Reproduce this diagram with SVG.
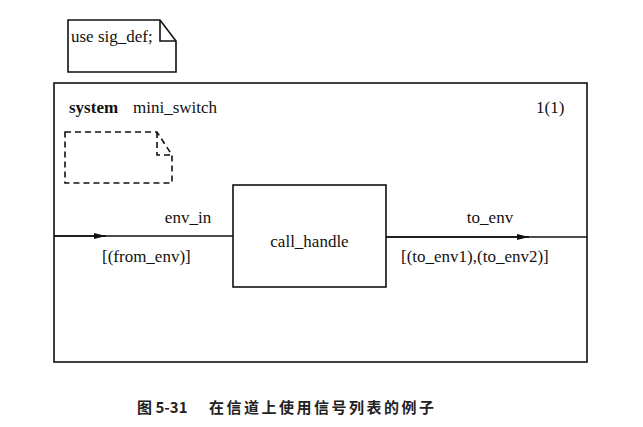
<svg xmlns="http://www.w3.org/2000/svg" width="643" height="427" viewBox="0 0 643 427">
<style>
.t{font-family:"Liberation Serif","Times New Roman",serif;font-size:17px;fill:#111}
.b{font-weight:bold}
.ln{fill:none;stroke:#111;stroke-width:1.6}
.dash{fill:none;stroke:#111;stroke-width:1.6;stroke-dasharray:6,4}
.cap{font-family:"Noto Sans CJK SC","Liberation Sans",sans-serif;font-size:15px;font-weight:bold;fill:#222}
</style>
<defs>
<marker id="arr" markerWidth="12" markerHeight="8" refX="12" refY="4" orient="auto" markerUnits="userSpaceOnUse">
<path d="M0,1 L12,4 L0,7 Z" fill="#111"/>
</marker>
</defs>
<rect width="643" height="427" fill="#fff"/>
<g id="use_note">
<path class="ln" d="M68,20 H160 L176,41 V72 H68 Z"/>
<path class="ln" d="M160,20 V41 H176"/>
<text class="t" x="71" y="42">use sig_def;</text>
</g>
<g id="system_frame">
<rect class="ln" x="54" y="83" width="533" height="279"/>
<text class="t" x="69" y="113"><tspan class="b">system</tspan><tspan x="133">mini_switch</tspan></text>
<text class="t" x="536" y="113">1(1)</text>
</g>
<g id="empty_note">
<path class="dash" d="M65,132 H157 L172,155 V183 H65 Z"/>
<path class="dash" d="M157,132 V155 H172"/>
</g>
<g id="call_handle">
<rect class="ln" x="233" y="185" width="153" height="102"/>
<text class="t" x="309.5" y="247" text-anchor="middle">call_handle</text>
</g>
<g id="connectors">
<line class="ln" x1="54" y1="236" x2="233" y2="236"/>
<line class="ln" x1="54" y1="236" x2="106" y2="236" marker-end="url(#arr)"/>
<text class="t" x="188" y="223" text-anchor="middle">env_in</text>
<text class="t" x="102" y="262">[(from_env)]</text>
<line class="ln" x1="386" y1="237" x2="587" y2="237"/>
<line class="ln" x1="386" y1="237" x2="529" y2="237" marker-end="url(#arr)"/>
<text class="t" x="490" y="223" text-anchor="middle">to_env</text>
<text class="t" x="401" y="262">[(to_env1),(to_env2)]</text>
</g>
<g id="caption">
<text class="cap" x="137" y="413">图 5-31</text>
<text class="cap" x="209" y="413" letter-spacing="2.5">在信道上使用信号列表的例子</text>
</g>
</svg>
